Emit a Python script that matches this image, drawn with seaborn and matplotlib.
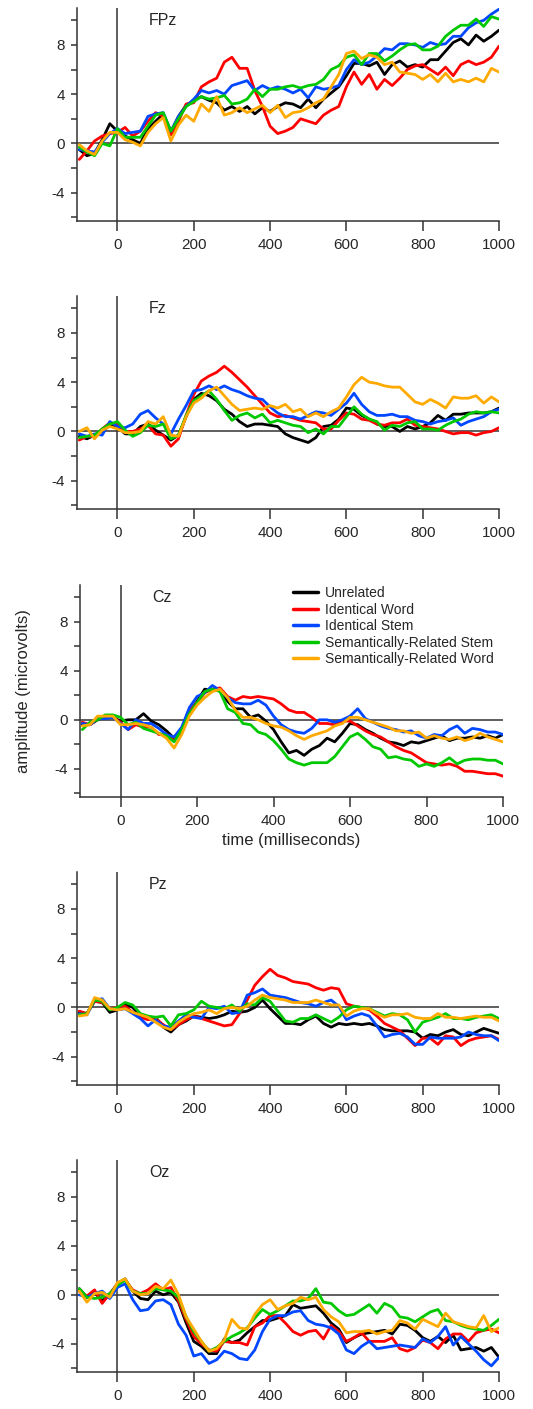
import numpy as np
import pandas as pd
import matplotlib
matplotlib.use("Agg")
import matplotlib.pyplot as plt
import seaborn as sns

# time axis (ms), one sample every 20 ms
times = list(range(-100, 1001, 20))

conditions = ["Unrelated", "Identical Word", "Identical Stem",
              "Semantically-Related Stem", "Semantically-Related Word"]
colors = ["#000000", "#ff0000", "#0047ff", "#00c800", "#ffaa00"]

# FPz
fpz_unrel = [-0.5, -1.0, -0.8, 0.3, 1.6, 1.0, 0.6, 0.3, 0.0, 1.2, 1.8, 2.4, 0.9, 2.2, 3.1, 3.5, 3.8, 3.5, 3.3, 2.7, 3.0, 2.6, 3.0, 2.4, 2.9, 2.6, 3.0, 3.3, 3.2, 2.9, 3.6, 2.9, 3.6, 4.1, 4.6, 5.5, 6.5, 6.5, 6.3, 6.6, 5.6, 6.4, 6.7, 6.2, 6.4, 6.2, 6.8, 6.8, 7.5, 8.2, 8.5, 8.0, 8.8, 8.3, 8.7, 9.2]
fpz_idword = [-1.3, -0.6, 0.2, 0.6, 0.8, 0.9, 1.3, 0.6, 1.0, 1.8, 2.5, 2.2, 0.7, 1.8, 3.2, 3.3, 4.6, 5.0, 5.3, 6.6, 7.0, 6.1, 6.1, 4.3, 3.0, 1.4, 0.8, 1.0, 1.3, 2.0, 1.8, 1.6, 2.3, 2.7, 3.0, 4.6, 5.8, 4.8, 5.6, 4.4, 5.2, 4.7, 5.3, 6.0, 6.3, 6.4, 6.0, 5.6, 6.2, 5.5, 6.4, 6.7, 6.4, 6.6, 7.0, 7.9]
fpz_idstem = [-0.5, -0.6, -0.7, 0.1, 0.8, 1.2, 0.8, 0.9, 1.0, 2.2, 2.4, 2.5, 1.0, 2.2, 3.0, 3.6, 4.3, 4.1, 4.3, 4.0, 4.7, 4.9, 5.1, 4.3, 4.7, 4.4, 4.6, 4.4, 4.1, 4.4, 3.7, 4.6, 4.4, 4.5, 4.7, 6.0, 6.8, 6.4, 6.6, 7.1, 7.7, 7.6, 8.1, 8.1, 8.0, 7.8, 8.2, 8.0, 8.1, 8.7, 8.7, 9.4, 9.8, 10.0, 10.5, 10.9]
fpz_semstem = [-0.3, -0.7, -1.0, 0.0, -0.2, 1.2, 0.5, 0.5, 0.5, 1.4, 2.3, 2.5, 1.0, 2.0, 3.0, 3.4, 3.8, 3.6, 3.7, 3.9, 3.2, 3.3, 3.6, 4.4, 3.8, 4.4, 4.4, 4.6, 4.7, 4.5, 4.7, 4.8, 5.2, 6.0, 6.3, 7.0, 7.2, 6.4, 7.3, 7.3, 6.7, 7.1, 7.6, 8.0, 8.1, 7.6, 7.6, 7.9, 8.7, 9.2, 9.6, 9.6, 10.1, 9.5, 10.3, 10.1]
fpz_semword = [-0.1, -0.6, -0.9, 0.2, 0.9, 0.9, 0.3, 0.1, -0.2, 0.9, 1.6, 2.1, 0.2, 1.5, 2.3, 1.8, 3.2, 2.6, 3.8, 2.3, 2.5, 2.9, 2.5, 2.8, 3.1, 2.5, 3.1, 2.1, 2.5, 2.6, 2.9, 3.3, 3.6, 4.6, 5.6, 7.3, 7.5, 6.9, 7.2, 7.0, 6.4, 6.6, 5.8, 5.7, 5.6, 5.2, 5.6, 5.0, 5.7, 5.0, 5.2, 5.0, 5.3, 5.0, 6.1, 5.8]

# Fz
fz_unrel = [-0.4, -0.6, -0.3, 0.0, 0.5, 0.4, -0.2, -0.2, 0.4, 0.6, 0.1, -0.3, -0.7, -0.3, 1.2, 2.6, 3.1, 2.9, 2.5, 1.8, 1.4, 0.8, 0.4, 0.6, 0.6, 0.5, 0.4, -0.2, -0.5, -0.7, -0.9, -0.5, 0.4, 0.5, 1.0, 1.9, 1.8, 1.3, 1.0, 0.6, 0.4, 0.4, 0.0, 0.4, 0.2, 0.4, 0.7, 1.3, 0.9, 1.4, 1.4, 1.5, 1.5, 1.5, 1.6, 1.9]
fz_idword = [-0.7, -0.4, -0.4, 0.2, 0.7, 0.5, 0.0, 0.0, 0.2, 0.5, -0.2, -0.3, -1.2, -0.6, 1.3, 3.0, 4.1, 4.5, 4.8, 5.3, 4.8, 4.2, 3.6, 2.9, 2.2, 1.5, 1.2, 1.3, 1.1, 0.9, 0.8, 0.7, 0.2, 0.2, 0.9, 1.5, 1.4, 1.0, 0.9, 0.6, 0.5, 0.7, 0.7, 1.0, 0.5, 0.4, 0.3, 0.2, 0.0, -0.2, -0.1, -0.1, -0.3, -0.1, 0.0, 0.3]
fz_idstem = [-0.2, -0.4, -0.2, -0.3, 0.8, 0.4, 0.3, 0.6, 1.4, 1.7, 1.1, 0.6, -0.2, 1.0, 2.1, 3.3, 3.4, 3.7, 3.4, 3.7, 3.4, 3.2, 2.9, 2.7, 2.6, 2.0, 1.5, 1.2, 1.2, 1.0, 1.3, 1.6, 1.5, 1.3, 1.8, 2.3, 3.1, 2.2, 1.6, 1.3, 1.3, 1.4, 1.2, 1.2, 0.9, 0.8, 0.6, 0.8, 0.9, 1.1, 0.5, 0.8, 1.0, 1.2, 1.6, 1.8]
fz_semstem = [-0.5, -0.4, -0.3, 0.2, 0.6, 0.8, 0.1, -0.4, -0.1, 0.5, 0.4, 0.6, -0.6, -0.3, 1.3, 2.5, 2.9, 3.3, 2.6, 1.7, 0.9, 1.3, 1.5, 1.1, 1.4, 0.7, 0.9, 0.7, 0.5, 0.4, -0.1, 0.2, -0.2, 0.4, 0.4, 1.2, 2.0, 1.4, 1.0, 0.8, 0.1, 0.5, 0.4, 0.7, 0.8, 0.2, 0.2, 0.1, 0.5, 0.8, 1.0, 1.4, 1.6, 1.5, 1.6, 1.5]
fz_semword = [0.0, 0.3, -0.6, 0.1, 0.4, 0.2, -0.1, -0.1, 0.0, 0.8, 0.6, 1.2, -0.3, -0.4, 1.2, 2.3, 2.7, 3.3, 3.6, 2.9, 2.2, 1.7, 1.8, 1.9, 1.8, 2.1, 1.9, 2.2, 1.6, 1.8, 1.2, 1.5, 1.2, 1.6, 1.9, 2.8, 3.8, 4.4, 4.0, 3.9, 3.7, 3.6, 3.6, 3.0, 2.4, 2.2, 2.6, 2.3, 1.9, 2.8, 2.7, 2.7, 2.9, 2.3, 2.8, 2.4]

# Cz
cz_unrel = [-0.4, -0.4, 0.0, 0.3, 0.2, -0.1, 0.0, 0.0, 0.5, -0.1, -0.4, -0.9, -1.5, -1.0, 0.6, 1.5, 2.5, 2.4, 2.5, 1.5, 0.9, 0.9, 0.2, 0.4, -0.1, -0.8, -1.8, -2.7, -2.5, -2.9, -2.4, -2.1, -1.5, -1.8, -1.1, -0.3, -0.4, -0.8, -1.1, -1.5, -1.8, -1.9, -2.1, -1.8, -1.9, -1.7, -1.5, -1.3, -1.7, -1.5, -1.5, -1.4, -1.5, -1.3, -1.5, -1.2]
cz_idword = [-0.2, -0.4, 0.1, 0.3, 0.2, -0.2, -0.8, -0.4, -0.6, -0.6, -1.2, -1.2, -1.7, -0.8, 0.7, 1.4, 2.2, 2.5, 2.6, 1.9, 1.6, 1.9, 1.8, 1.9, 1.8, 1.7, 1.3, 0.8, 0.6, 0.6, 0.2, -0.3, -0.3, -0.4, -0.1, -0.1, -0.5, -0.9, -1.2, -1.4, -1.8, -2.2, -2.5, -2.7, -3.1, -3.5, -3.6, -3.7, -3.6, -3.8, -4.2, -4.2, -4.3, -4.4, -4.4, -4.6]
cz_idstem = [-0.3, -0.4, 0.1, 0.1, 0.2, -0.3, -0.8, 0.0, -0.3, -0.3, -0.7, -1.2, -1.4, -0.6, 1.0, 1.9, 2.2, 2.8, 2.4, 1.8, 1.4, 1.3, 1.3, 1.6, 1.2, 0.3, -0.4, -0.8, -1.0, -1.1, -0.7, 0.0, 0.0, -0.2, 0.0, 0.3, 0.9, 0.1, -0.2, -0.5, -0.7, -0.8, -1.0, -0.9, -1.3, -1.5, -1.2, -1.3, -0.8, -0.5, -1.1, -0.7, -0.8, -1.0, -1.0, -1.2]
cz_semstem = [-0.8, -0.2, 0.0, 0.4, 0.4, 0.2, -0.4, -0.2, -0.7, -0.9, -1.1, -1.3, -1.8, -0.8, 0.5, 1.4, 2.3, 2.5, 2.3, 0.9, 0.6, -0.3, -0.4, -1.0, -1.2, -1.7, -2.4, -3.2, -3.5, -3.7, -3.5, -3.5, -3.5, -3.0, -2.2, -1.4, -1.1, -1.6, -2.2, -2.4, -3.1, -3.0, -3.2, -3.3, -3.8, -3.6, -3.8, -3.5, -3.1, -3.6, -3.3, -3.2, -3.2, -3.3, -3.3, -3.6]
cz_semword = [-0.5, -0.4, 0.3, 0.3, 0.3, -0.4, -0.4, -0.3, -0.4, -0.6, -1.1, -1.5, -2.3, -1.2, 0.3, 1.2, 1.8, 2.3, 2.5, 1.8, 0.8, 0.2, 0.2, 0.0, -0.3, -0.5, -0.6, -0.9, -1.3, -1.6, -1.3, -1.1, -0.9, -0.5, -0.3, 0.2, 0.2, 0.0, -0.2, -0.4, -0.6, -0.9, -0.9, -1.1, -1.0, -1.5, -1.3, -1.5, -1.6, -1.4, -1.7, -1.5, -1.1, -1.4, -1.6, -1.8]

# Pz
pz_unrel = [-0.4, -0.5, 0.5, 0.4, -0.4, -0.2, 0.3, 0.0, -0.7, -0.9, -0.8, -1.6, -2.0, -1.4, -1.1, -0.7, -0.8, -0.9, -0.8, -0.6, -0.3, -0.4, -0.3, 0.0, 0.6, -0.1, -0.7, -1.3, -1.3, -1.4, -1.0, -0.7, -1.3, -1.6, -1.3, -1.4, -1.3, -1.4, -1.3, -1.5, -1.8, -1.9, -1.9, -1.9, -2.0, -2.5, -2.2, -2.3, -2.0, -1.8, -2.2, -2.3, -2.0, -1.7, -1.9, -2.1]
pz_idword = [-0.3, -0.5, 0.5, 0.4, -0.1, 0.0, 0.1, -0.4, -0.8, -1.0, -0.9, -1.4, -1.8, -1.4, -1.0, -0.7, -0.9, -1.1, -1.3, -1.5, -1.4, -0.5, 0.6, 1.8, 2.5, 3.1, 2.6, 2.4, 2.1, 2.0, 1.9, 1.6, 1.4, 1.6, 1.5, 0.3, 0.1, 0.0, -0.2, -0.7, -1.3, -1.6, -1.9, -2.5, -3.1, -2.5, -2.5, -3.0, -2.3, -2.4, -3.1, -2.7, -2.5, -2.4, -2.3, -2.6]
pz_idstem = [-0.5, -0.6, 0.6, 0.7, -0.1, -0.2, -0.1, -0.5, -0.9, -1.5, -1.0, -1.5, -1.6, -1.1, -0.6, -0.8, -0.9, 0.0, -0.1, 0.1, -0.5, -0.4, 1.0, 1.2, 1.5, 1.0, 0.9, 0.8, 0.6, 0.4, 0.3, 0.1, 0.4, 0.6, 0.1, -1.0, -0.7, -0.5, -0.7, -1.5, -2.4, -2.2, -2.1, -2.4, -3.0, -3.0, -2.4, -2.5, -2.5, -2.5, -2.4, -2.0, -2.2, -2.3, -2.3, -2.7]
pz_semstem = [-0.6, -0.5, 0.6, 0.5, -0.2, 0.0, 0.4, 0.2, -0.5, -0.7, -0.8, -0.7, -1.5, -0.6, -0.5, -0.2, 0.5, 0.1, 0.0, -0.1, 0.2, -0.3, 0.3, 0.2, 0.8, 0.5, -0.3, -1.1, -1.2, -0.9, -0.9, -0.6, -0.9, -1.2, -0.8, -0.2, 0.1, 0.0, -0.1, -0.4, -0.7, -0.5, -0.6, -1.0, -2.0, -1.2, -1.0, -0.8, -0.5, -0.9, -0.9, -1.0, -0.8, -0.7, -0.6, -0.9]
pz_semword = [-0.7, -0.6, 0.8, 0.6, -0.1, -0.2, -0.1, -0.4, -0.6, -0.8, -1.2, -1.6, -1.8, -1.2, -0.8, -0.5, -0.4, -0.2, -0.5, -0.1, 0.0, -0.1, 0.1, 0.6, 1.0, 0.8, 0.7, 0.6, 0.4, 0.4, 0.4, 0.6, 0.4, 0.2, 0.2, -0.7, -0.3, -0.1, -0.1, -0.5, -0.8, -0.6, -0.6, -0.5, -0.8, -0.9, -0.9, -0.5, -0.8, -0.8, -0.9, -0.8, -0.7, -0.8, -0.8, -1.1]

# Oz
oz_unrel = [0.5, -0.2, 0.2, -0.5, 0.0, 0.9, 1.3, 0.3, -0.3, -0.4, 0.3, 0.0, 0.2, -0.6, -2.3, -3.8, -4.2, -4.8, -4.8, -3.6, -3.9, -3.7, -3.1, -2.6, -2.1, -2.1, -1.9, -1.7, -0.8, -1.1, -1.0, -0.9, -1.5, -2.3, -2.8, -3.9, -3.5, -3.2, -3.1, -3.0, -2.9, -3.2, -2.4, -2.5, -2.9, -3.5, -3.8, -3.4, -3.9, -3.3, -4.5, -4.4, -4.3, -4.6, -4.3, -5.1]
oz_idword = [0.3, -0.1, 0.4, -0.7, 0.1, 0.9, 1.2, 0.4, 0.1, 0.4, 0.9, 0.4, 0.6, -0.5, -2.0, -3.4, -4.0, -4.5, -4.6, -3.8, -3.9, -3.9, -4.1, -2.6, -2.3, -1.7, -1.7, -2.3, -3.0, -3.3, -3.0, -2.9, -3.6, -2.5, -3.0, -3.8, -3.5, -3.1, -3.8, -3.8, -3.8, -3.5, -4.4, -4.6, -4.3, -3.7, -3.9, -4.4, -3.6, -3.2, -3.2, -3.8, -3.1, -2.9, -2.8, -3.1]
oz_idstem = [0.0, -0.2, 0.1, 0.3, -0.3, 0.6, 0.9, -0.4, -1.3, -1.2, -0.5, -0.4, -0.8, -2.4, -3.3, -5.0, -4.8, -5.6, -5.3, -4.6, -4.8, -5.2, -5.3, -4.5, -3.0, -2.0, -1.7, -1.7, -1.4, -1.3, -2.1, -2.4, -2.5, -2.7, -3.2, -4.5, -4.8, -4.2, -3.8, -4.4, -4.3, -4.2, -4.1, -4.2, -4.3, -3.6, -3.9, -3.4, -2.6, -4.1, -3.4, -4.0, -4.6, -5.3, -5.8, -5.1]
oz_semstem = [0.5, -0.2, -0.3, -0.2, 0.1, 0.8, 1.2, 0.3, 0.1, 0.1, 0.5, 0.4, 0.3, -0.2, -1.8, -3.0, -3.8, -4.6, -4.3, -3.8, -3.4, -3.1, -2.7, -1.9, -1.2, -1.6, -1.3, -0.9, -0.5, -0.5, -0.3, 0.5, -0.6, -0.7, -1.3, -1.7, -1.6, -1.2, -0.8, -1.5, -0.7, -1.0, -1.8, -1.9, -2.2, -1.8, -1.4, -1.2, -2.1, -2.2, -2.5, -2.7, -2.8, -2.9, -2.5, -2.0]
oz_semword = [0.3, -0.6, 0.1, 0.2, -0.2, 1.0, 1.3, 0.3, 0.0, 0.1, 0.7, 0.5, 1.2, 0.0, -1.8, -2.8, -3.8, -4.6, -4.4, -3.7, -2.0, -2.7, -2.8, -1.6, -0.8, -0.4, -1.2, -0.9, -0.7, -0.2, -0.4, -0.2, -1.2, -1.8, -2.2, -3.1, -3.0, -3.0, -2.9, -3.2, -3.0, -2.9, -2.1, -2.3, -2.8, -2.0, -2.3, -2.6, -1.5, -2.2, -2.4, -2.6, -2.7, -1.7, -3.0, -2.7]

channels = ["FPz", "Fz", "Cz", "Pz", "Oz"]
channel_data = [
    [fpz_unrel, fpz_idword, fpz_idstem, fpz_semstem, fpz_semword],
    [fz_unrel, fz_idword, fz_idstem, fz_semstem, fz_semword],
    [cz_unrel, cz_idword, cz_idstem, cz_semstem, cz_semword],
    [pz_unrel, pz_idword, pz_idstem, pz_semstem, pz_semword],
    [oz_unrel, oz_idword, oz_idstem, oz_semstem, oz_semword],
]

sns.set_style("ticks")
plt.rcParams["font.family"] = ["Liberation Sans", "DejaVu Sans"]
plt.rcParams["axes.unicode_minus"] = False

W, H = 533, 1409
fig = plt.figure(figsize=(W / 100, H / 100), dpi=100)

# axes boxes in pixels: left, top, right, bottom
boxes = [(77, 8, 499, 221), (77, 296, 499, 509), (80, 585, 503, 797),
         (77, 872, 499, 1085), (77, 1160, 499, 1372)]
axcol = "#333333"

for name, series, (l, t, r, b) in zip(channels, channel_data, boxes):
    ax = fig.add_axes([l / W, 1 - b / H, (r - l) / W, (b - t) / H])
    frames = []
    for cond, vals in zip(conditions, series):
        frames.append(pd.DataFrame({"time": times, "amp": vals, "cond": cond}))
    df = pd.concat(frames, ignore_index=True)

    ax.axhline(0, color=axcol, lw=1.1, zorder=1)
    ax.axvline(0, color=axcol, lw=1.1, zorder=1)
    sns.lineplot(data=df, x="time", y="amp", hue="cond", hue_order=conditions,
                 palette=colors, linewidth=2.0, estimator=None, ax=ax,
                 legend=(name == "Cz"), zorder=3,
                 solid_joinstyle="round", solid_capstyle="round")

    ax.set_xlim(-106, 1000)
    ax.set_ylim(-6.3, 11.0)
    ax.set_xticks([0, 200, 400, 600, 800, 1000])
    ax.set_yticks([-4, 0, 4, 8])
    ax.set_yticks([-6, -2, 2, 6, 10], minor=True)
    ax.tick_params(axis="x", length=7, width=1.1, labelsize=11, pad=5, color=axcol)
    ax.tick_params(axis="y", which="both", length=4.5, width=1.1, labelsize=11, pad=4,
                   color=axcol)
    sns.despine(ax=ax)
    for s in ("left", "bottom"):
        ax.spines[s].set_linewidth(1.1)
        ax.spines[s].set_color(axcol)

    ax.text(83, 10.0, name, fontsize=11.5, ha="left", va="center")

    if name == "Cz":
        ax.set_xlabel("time (milliseconds)", fontsize=12, labelpad=4)
        ax.set_ylabel("amplitude (microvolts)", fontsize=12, labelpad=17)
        leg = ax.legend(loc="upper left", bbox_to_anchor=(0.504, 0.995), frameon=False,
                        fontsize=10, handlelength=1.8, handletextpad=0.5,
                        labelspacing=0.18, borderpad=0, borderaxespad=0)
        for line in leg.get_lines():
            line.set_linewidth(2.5)
    else:
        ax.set_xlabel("")
        ax.set_ylabel("")

fig.savefig("out.png", dpi=100)
